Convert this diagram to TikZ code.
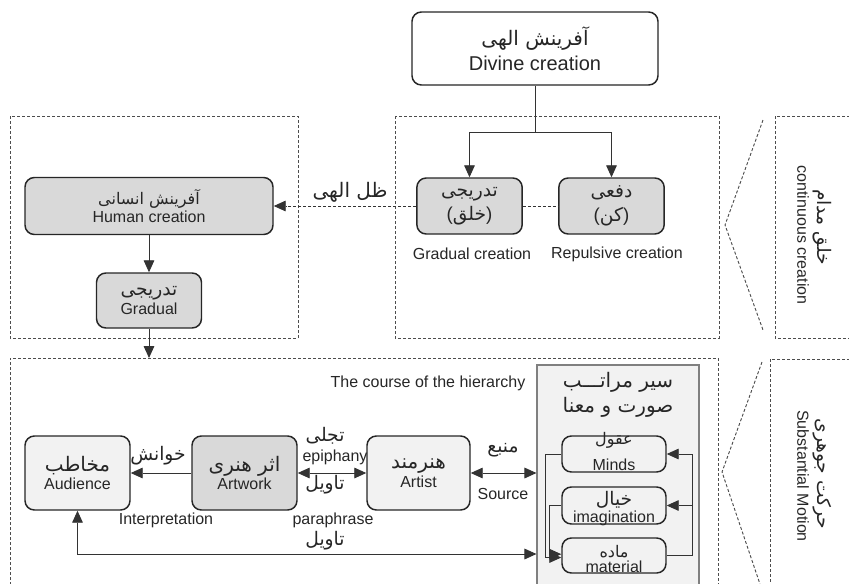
\documentclass[tikz,border=0pt]{standalone}
\usepackage{fontspec}
\setmainfont{Liberation Sans}
\newfontfamily\arabicfont[Script=Arabic]{DejaVu Sans}
\TeXXeTstate=1
\usepackage{tikz}
\usetikzlibrary{arrows.meta}
\newcommand{\fa}[1]{{\arabicfont\beginR #1\endR}}
\newcommand{\fab}[1]{{\fontsize{15}{17}\selectfont\fa{#1}}}
\definecolor{boxgray}{HTML}{D9D9D9}
\definecolor{boxlight}{HTML}{F2F2F2}
\definecolor{framegray}{HTML}{4D4D4D}
\tikzstyle{process} = [rectangle, rounded corners=7pt, draw=black!85, line width=1.1pt, align=center, text=black!85, font=\fontsize{12}{14}\selectfont]
\tikzstyle{frame} = [draw=framegray, line width=0.7pt, dash pattern=on 2.25pt off 1.5pt]
\tikzstyle{line} = [draw=black!80, line width=0.7pt]
\tikzstyle{arrow} = [line, ->, >={Triangle[length=9pt,width=8pt]}]
\tikzstyle{lbl} = [inner sep=0pt, text=black!85, font=\fontsize{12}{14}\selectfont]

\begin{document}
\begin{tikzpicture}[x=0.75pt,y=-0.75pt]
    \useasboundingbox (0,0) rectangle (849,583);

    % dashed frames
    \draw[frame] (10,116) rectangle (298,338);
    \draw[frame] (395,116) rectangle (719,338);
    \draw[frame] (10,590) -- (10,358) -- (718,358) -- (718,590);
    \draw[frame] (855,116) -- (775,116) -- (775,338) -- (855,338);
    \draw[frame] (855,359) -- (770,359) -- (770,590);
    \draw[frame] (763,120) -- (725,225) -- (763,330);
    \draw[frame] (762,362) -- (722,472) -- (762,590);

    \node (contfa) [lbl, rotate=-90, font=\fontsize{14}{16}\selectfont] at (822,227) {\fa{خلق مدام}};
    \node (contcr) [lbl, rotate=-90] at (803,235) {continuous creation};
    \node (subfa) [lbl, rotate=-90, font=\fontsize{14}{16}\selectfont] at (822,474) {\fa{حرکت جوهری}};
    \node (submot) [lbl, rotate=-90] at (803,476) {Substantial Motion};

    % divine creation
    \node (divine) [process, fill=white, minimum width=184.5pt, minimum height=54.75pt, font=\fontsize{15}{19}\selectfont] at (535,48.5) {\fa{آفرینش الهی}\\Divine creation};

    \node (gradcr) [process, fill=boxgray, minimum width=79pt, minimum height=42pt, font=\fontsize{14}{18}\selectfont] at (469.5,206) {\fa{تدریجی}\\(\fa{خلق})};
    \node (repcr) [process, fill=boxgray, minimum width=79pt, minimum height=42pt, font=\fontsize{14}{18}\selectfont] at (611.5,206) {\fa{دفعی}\\(\fa{کن})};

    \node (gradlbl) [lbl] at (472,254) {Gradual creation};
    \node (replbl) [lbl] at (617,254) {Repulsive creation};

    \coordinate (branch) at (535,132);
    \draw[line] (divine.south) -- (branch);
    \draw[arrow] (branch) -| (gradcr.north);
    \draw[arrow] (branch) -| (repcr.north);

    % human creation
    \node (human) [process, fill=boxgray, minimum width=186pt, minimum height=42.75pt] at (149,206) {\fa{آفرینش انسانی}\\Human creation};
    \node (gradual) [process, fill=boxgray, minimum width=78.75pt, minimum height=41.25pt] at (149,300.5) {{\fontsize{14}{15}\selectfont\fa{تدریجی}}\\Gradual};

    \node (zel) [lbl, font=\fontsize{15}{18}\selectfont] at (350,192) {\fa{ظل الهی}};

    \draw[line, dash pattern=on 2.25pt off 1.5pt] (gradcr.east) -- (repcr.west);
    \draw[arrow, dash pattern=on 2.25pt off 1.5pt] (gradcr.west) -- (human.east);
    \draw[arrow] (human.south) -- (gradual.north);

    \coordinate (lowtop) at (149,358);
    \draw[arrow] (gradual.south) -- (lowtop);

    % substantial motion
    \node (course) [lbl] at (428,383) {The course of the hierarchy};

    \node (audience) [process, fill=boxlight, minimum width=78.75pt, minimum height=55.5pt] at (77.5,473) {\fab{مخاطب}\\Audience};
    \node (artwork) [process, fill=boxgray, minimum width=78.75pt, minimum height=55.5pt] at (244.5,473) {\fab{اثر هنری}\\Artwork};
    \node (artist) [process, fill=boxlight, minimum width=77.25pt, minimum height=55.5pt] at (418.5,473) {\fab{هنرمند}\\Artist};

    \node (hier) [rectangle, draw=gray, fill=boxlight, line width=0.8pt, minimum width=121.5pt, minimum height=168.75pt] at (618,477.5) {};
    \node (hiertitle) [lbl, align=center, font=\fontsize{15}{19}\selectfont] at (618,395) {\fa{سیر مراتـــب}\\\fa{صورت و معنا}};

    \node (minds) [process, fill=boxlight, minimum width=78pt, minimum height=27pt,
        label={[lbl, yshift=10pt]center:\fa{عقول}}, label={[lbl, yshift=-8pt]center:Minds}] at (614,454) {};
    \node (imag) [process, fill=boxlight, minimum width=78pt, minimum height=27.75pt,
        label={[lbl, yshift=4pt, font=\fontsize{14}{16}\selectfont]center:\fa{خیال}}, label={[lbl, yshift=-9.4pt]center:imagination}] at (614,505.5) {};
    \node (material) [process, fill=boxlight, minimum width=78pt, minimum height=26.25pt,
        label={[lbl, yshift=2.6pt]center:\fa{ماده}}, label={[lbl, yshift=-8.6pt]center:material}] at (614,555.5) {};

    \draw[arrow] (artwork.west) -- (audience.east);
    \draw[arrow, <->] (artwork.east) -- (artist.west);
    \draw[arrow, <->] (artist.east) -- (artist.east -| hier.west);
    \coordinate (bottomrun) at (300,554);
    \draw[arrow, <->] (audience.south) |- (hier.west |- bottomrun);

    \node (khanesh) [lbl, font=\fontsize{14}{16}\selectfont] at (158,456) {\fa{خوانش}};
    \node (interp) [lbl] at (166,520) {Interpretation};
    \node (tajalli) [lbl, font=\fontsize{14}{16}\selectfont] at (325,436) {\fa{تجلی}};
    \node (epiph) [lbl] at (335,457) {epiphany};
    \node (tavil) [lbl, font=\fontsize{14}{16}\selectfont] at (325,485) {\fa{تاویل}};
    \node (paraph) [lbl] at (333,520) {paraphrase};
    \node (tavilb) [lbl, font=\fontsize{14}{16}\selectfont] at (325,541) {\fa{تاویل}};
    \node (manba) [lbl, font=\fontsize{14}{16}\selectfont] at (503,450) {\fa{منبع}};
    \node (source) [lbl] at (503,494) {Source};

    \draw[arrow] (material.east) -- ++(26,0) |- (minds.east);
    \draw[arrow] ([xshift=19.5pt]imag.east) -- (imag.east);
    \draw[arrow] (minds.west) -- ++(-16,0) |- ([yshift=-1.5pt]material.west);
    \draw[arrow] (imag.west) -- ++(-12,0) |- ([yshift=1pt]material.west);
\end{tikzpicture}
\end{document}
